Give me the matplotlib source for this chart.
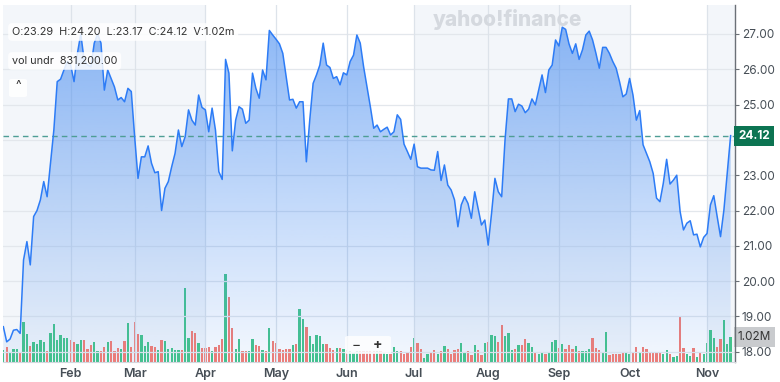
import numpy as np
import matplotlib.pyplot as plt
import matplotlib.transforms as mtransforms
from matplotlib.patches import FancyBboxPatch

plt.rcParams['font.family'] = ['Inter', 'DejaVu Sans']

# daily closes
close = [
    18.71, 18.28, 18.36, 18.61, 18.63, 18.52, 20.60, 21.12, 20.46, 21.83,
    22.00, 22.30, 22.82, 22.39, 23.34, 24.28, 25.65, 25.72, 25.98, 26.22,
    26.12, 25.65, 26.45, 27.00, 26.26, 26.12, 26.07, 26.74, 27.00, 26.74,
    25.41, 25.98, 25.74, 25.50, 25.13, 25.20, 25.08, 25.46, 25.37,
    24.09, 22.91, 23.52, 23.52, 23.83, 23.34, 23.07, 23.10, 22.00, 22.63,
    22.82, 23.24, 23.62, 24.28, 23.81, 24.09, 24.85, 24.56, 24.42, 25.27,
    24.92, 24.85, 24.23, 24.90, 24.28, 23.10, 22.88, 26.28, 25.89, 23.69,
    24.56, 24.94, 24.87, 24.47, 24.56, 25.89,
    25.46, 25.18, 25.98, 25.70, 27.10, 26.97, 26.85, 26.72, 26.45, 25.79,
    25.13, 25.15, 24.90, 25.08, 25.08, 23.38, 24.56, 25.60, 25.84, 26.12,
    26.74, 26.12, 26.05, 25.74, 25.79, 25.56, 25.90, 25.84, 26.22, 26.40,
    26.97, 26.74, 26.07, 25.50, 24.94, 24.33, 24.42, 24.23,
    24.30, 24.36, 24.14, 24.23, 24.71, 24.58, 23.88, 23.67, 23.45, 23.88,
    23.24, 23.20, 23.20, 23.20, 23.15, 23.14, 23.67, 22.85, 23.29, 22.72,
    22.58, 22.30, 21.54, 22.16, 22.39, 22.20, 21.78, 22.53, 22.06, 21.59,
    21.73, 21.02, 21.92, 22.91, 22.53, 22.39,
    24.00, 25.16, 25.16, 24.80, 25.01, 24.96, 24.77, 24.87, 25.16, 24.99,
    25.41, 25.84, 25.34, 25.98, 26.12, 26.83, 26.66, 27.19, 27.13, 26.72,
    26.45, 26.72, 26.28, 26.55, 26.97, 27.08, 26.83, 26.45, 26.03, 26.62,
    26.62, 26.45, 26.22, 26.03, 25.65, 25.22, 25.30, 25.74,
    25.27, 24.56, 24.83, 23.86, 23.62, 23.38, 23.05, 22.35, 22.25, 22.77,
    23.45, 22.75, 22.86, 23.00, 21.97, 21.45, 21.64, 21.71, 21.31, 21.33,
    20.97, 21.24, 21.35, 22.16, 22.42, 21.83, 21.26, 22.01, 23.05, 24.12,
]

# daily volume, millions
volume = [
    0.50,
    0.61, 0.41, 0.54, 0.54, 0.37, 1.63, 1.16, 0.67, 0.80, 0.75,
    0.88, 0.80, 0.45, 1.20, 1.54, 0.88, 1.09, 1.00, 1.00, 0.88,
    0.80, 0.75, 0.88, 0.88, 0.54, 0.68, 0.80, 0.45, 0.45, 0.61,
    0.80, 0.86, 0.45, 0.59, 0.52, 0.86, 1.59, 0.62, 1.63, 1.16,
    1.09, 0.65, 0.82, 0.64, 0.61, 0.48, 0.91, 0.86, 0.52, 0.57,
    0.50, 0.48, 0.50, 3.03, 0.98, 1.27, 1.20, 0.78, 0.56, 0.56,
    0.61, 0.44, 0.61, 0.68, 0.95, 3.60, 2.65, 1.39, 0.54, 0.94,
    0.45, 0.45, 0.44, 0.94, 0.68, 0.65, 0.50, 0.45, 1.39, 0.84,
    0.79, 0.54, 0.48, 0.54, 0.52, 0.68, 0.75, 2.16, 1.74, 1.43,
    1.05, 0.72, 1.09, 1.05, 0.75, 0.75, 0.59, 0.50, 0.59, 0.59,
    0.54, 0.48, 0.45, 0.41, 0.44, 0.44, 0.44, 0.44, 0.44, 0.44,
    0.44, 0.44, 0.41, 0.34, 0.31, 0.61, 0.44, 0.44,
    0.34, 0.41, 0.61, 0.97, 0.76, 0.52, 0.15, 0.34, 0.38, 0.48,
    0.34, 0.45, 0.65, 0.52, 0.34, 0.48, 0.52, 0.79, 0.42, 0.45,
    0.29, 0.69, 0.49, 0.27, 0.76, 0.83, 1.10, 1.06, 0.83, 1.50,
    1.06, 1.17, 0.49, 0.52, 0.69, 0.69, 0.93, 0.79, 0.61, 0.38,
    0.34, 0.42, 0.34, 0.42, 0.83, 0.88, 0.56, 0.75, 0.52, 0.69,
    0.52, 0.65, 0.45, 0.45, 0.45, 0.52, 0.97, 0.59, 0.48, 0.38,
    1.22, 0.29, 0.31, 0.31, 0.34, 0.41, 0.41, 0.34, 0.41, 0.61,
    0.42, 0.61, 0.52, 0.42, 0.42, 0.42, 0.38, 0.34, 0.48, 0.31,
    0.20, 0.24, 1.88, 0.59, 0.31, 0.24, 0.59, 0.20, 0.38, 0.31,
    0.76, 1.31, 0.97, 0.61, 0.93, 1.70, 0.72, 1.02,
]

month_labels = ["Feb", "Mar", "Apr", "May", "Jun", "Jul", "Aug", "Sep", "Oct", "Nov"]
month_idx = [20, 39, 60, 81, 102, 122, 144, 165, 186, 209]
grid_prices = [18, 19, 20, 21, 22, 23, 24, 25, 26, 27]
price_ticks = [18, 19, 20, 21, 22, 23, 25, 26, 27]  # 24.00 sits under the last-price tag
last_close = 24.12
last_vol = 1.02
header = "O:23.29  H:24.20  L:23.17  C:24.12  V:1.02m"
vol_info = "vol undr  831,200.00"

x = np.arange(len(close))
W, H = 780, 382
fig = plt.figure(figsize=(W / 100, H / 100), dpi=100)
fig.patch.set_facecolor("white")

rect = [3 / W, 1 - 362 / H, 732 / W, 357 / H]
xlim = (-0.1, 217.3)
ylim = (17.71, 27.82)

# volume axes in the back
vax = fig.add_axes(rect)
vax.set_xlim(*xlim)
vax.set_ylim(0, 357 / 24.5)
vax.set_facecolor("white")
band = "#f3f6fa"
vax.axvspan(xlim[0], month_idx[2], color=band, lw=0, zorder=0)
vax.axvspan(month_idx[5], month_idx[8], color=band, lw=0, zorder=0)
vax.axvspan(month_idx[9], xlim[1], color=band, lw=0, zorder=0)
up = np.r_[True, np.diff(close) >= 0]
colors = np.where(up, "#45c58a", "#f67d72")
vax.bar(x, volume, width=0.68, color=colors, zorder=3)
vax.set_xticks([])
vax.set_yticks([])
for s in vax.spines.values():
    s.set_visible(False)
vax.text(1.004, last_vol, "1.02M", transform=mtransforms.blended_transform_factory(vax.transAxes, vax.transData),
         ha="left", va="center", fontsize=8.5, color="#333333",
         bbox=dict(boxstyle="square,pad=0.3", fc="#c9cbce", ec="none"), clip_on=False, zorder=10)

# price axes on top
ax = fig.add_axes(rect)
ax.patch.set_alpha(0)
ax.set_xlim(*xlim)
ax.set_ylim(*ylim)
for t in grid_prices:
    ax.axhline(t, color="#e3e7ec", lw=0.9, zorder=1)
for m in month_idx:
    ax.axvline(m, color="#dde3ea", lw=0.9, zorder=1)

fill = ax.fill_between(x, close, ylim[0], color="none", lw=0)
grad = np.zeros((256, 1, 4))
grad[:, 0, :3] = np.array([61, 134, 240]) / 255
grad[:, 0, 3] = np.linspace(0.62, 0.06, 256)
img = ax.imshow(grad, extent=[xlim[0], xlim[1], ylim[0], ylim[1]], aspect="auto",
                origin="upper", zorder=2, interpolation="bilinear")
img.set_clip_path(fill.get_paths()[0], transform=ax.transData)
ax.plot(x, close, color="#2d7cf6", lw=1.1, zorder=4)
ax.axhline(last_close, color="#4e9e95", lw=1, ls=(0, (4, 3)), zorder=3)

ax.yaxis.tick_right()
ax.set_yticks(price_ticks)
ax.set_yticklabels([f"{t:.2f}" for t in price_ticks])
ax.tick_params(axis="y", length=3, width=0.8, color="#6b7077", labelsize=8.5,
               labelcolor="#464e56", pad=2)
ax.set_xticks(month_idx)
ax.set_xticklabels(month_labels)
ax.tick_params(axis="x", length=0, labelsize=9, labelcolor="#464e56", pad=4)
for lab in ax.get_xticklabels():
    lab.set_fontweight("semibold")
for side in ["left", "top"]:
    ax.spines[side].set_visible(False)
ax.spines["right"].set_color("#6b7077")
ax.spines["right"].set_linewidth(1)
ax.spines["bottom"].set_color("#d3d8de")

ax.text(1.004, last_close, "24.12", transform=mtransforms.blended_transform_factory(ax.transAxes, ax.transData),
        ha="left", va="center", fontsize=8.5, color="white", fontweight="bold",
        bbox=dict(boxstyle="square,pad=0.35", fc="#0c7452", ec="none"), clip_on=False, zorder=10)

# overlay texts
def fx(px):
    return px / W

def fy(py):
    return 1 - py / H

fig.text(fx(507), fy(19), "yahoo!finance", ha="center", va="center", fontsize=15,
         fontweight="heavy", color="#d5d9df")
fig.text(fx(12), fy(32), header, ha="left", va="center", fontsize=7.8, color="#333333",
         bbox=dict(boxstyle="round,pad=0.35", fc="white", ec="none", alpha=0.85))
fig.text(fx(12), fy(61), vol_info, ha="left", va="center", fontsize=7.8, color="#333333",
         bbox=dict(boxstyle="round,pad=0.35", fc="white", ec="none", alpha=0.85))
fig.add_artist(FancyBboxPatch((fx(9), fy(97)), 18 / W, 18 / H, boxstyle="round,pad=0,rounding_size=0.004",
                              transform=fig.transFigure, fc="white", ec="none", alpha=0.9))
fig.text(fx(18), fy(86), "^", ha="center", va="center", fontsize=8.5, color="#333333")
fig.add_artist(FancyBboxPatch((fx(345), fy(354)), 46 / W, 18 / H, boxstyle="round,pad=0,rounding_size=0.004",
                              transform=fig.transFigure, fc="white", ec="none", alpha=0.8))
fig.text(fx(356), fy(345), "\u2212", ha="center", va="center", fontsize=10, color="#333333")
fig.text(fx(378), fy(345), "+", ha="center", va="center", fontsize=10, color="#333333",
         fontweight="bold")

fig.savefig("out.png", dpi=100)
